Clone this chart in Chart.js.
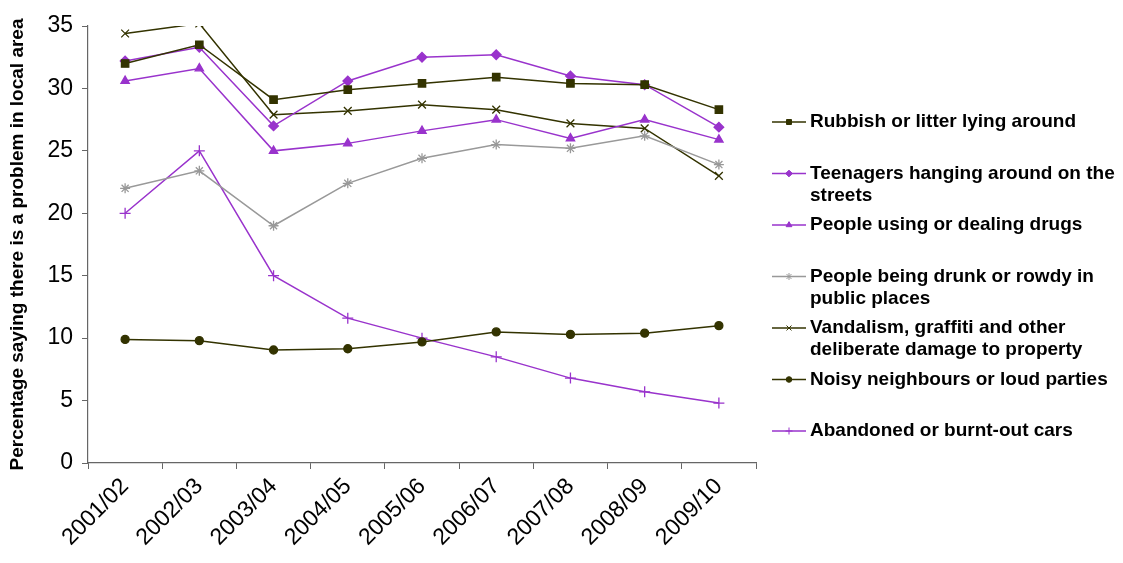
<!DOCTYPE html>
<html>
<head>
<meta charset="utf-8">
<script src="https://cdn.jsdelivr.net/npm/chart.js@4/dist/chart.umd.min.js"></script>
<style>
  html, body { margin: 0; padding: 0; background: #ffffff; }
  #wrap { width: 1123px; height: 563px; position: relative; }
</style>
</head>
<body>
<div id="wrap"><canvas id="c" width="1123" height="563"></canvas></div>
<script>
// ---- Data ----
const years = ['2001/02','2002/03','2003/04','2004/05','2005/06','2006/07','2007/08','2008/09','2009/10'];
const yTicks = [0, 5, 10, 15, 20, 25, 30, 35];
const yTitle = 'Percentage saying there is a problem in local area';

const rubbish   = [32.0, 33.5, 29.1, 29.9, 30.4, 30.9, 30.4, 30.3, 28.3];
const teenagers = [32.2, 33.3, 27.0, 30.6, 32.5, 32.7, 31.0, 30.3, 26.9];
const drugs     = [30.6, 31.6, 25.0, 25.6, 26.6, 27.5, 26.0, 27.5, 25.9];
const drunk     = [22.0, 23.4, 19.0, 22.4, 24.4, 25.5, 25.2, 26.2, 23.9];
const vandalism = [34.4, 35.2, 27.9, 28.2, 28.7, 28.3, 27.2, 26.8, 23.0];
const noisy     = [9.9, 9.8, 9.05, 9.15, 9.7, 10.5, 10.3, 10.4, 11.0];
const abandoned = [20.0, 25.0, 15.0, 11.6, 10.0, 8.5, 6.8, 5.7, 4.8];

const seriesLabels = [
  ['Rubbish or litter lying around'],
  ['Teenagers hanging around on the', 'streets'],
  ['People using or dealing drugs'],
  ['People being drunk or rowdy in', 'public places'],
  ['Vandalism, graffiti and other', 'deliberate damage to property'],
  ['Noisy neighbours or loud parties'],
  ['Abandoned or burnt-out cars']
];

// ---- Styles ----
const OLIVE = '#333300';
const PURPLE = '#9933cc';
const GREY = '#999999';
const FONT = '"Liberation Sans", Arial, sans-serif';

function ds(idx, data, color, style, radius, fill) {
  return {
    label: seriesLabels[idx].join(' '),
    legendLines: seriesLabels[idx],
    data: data,
    borderColor: color,
    backgroundColor: fill || color,
    borderWidth: 1.5,
    pointStyle: style,
    pointRadius: radius,
    pointHoverRadius: radius,
    pointBorderColor: color,
    pointBackgroundColor: fill || color,
    pointBorderWidth: 1.3,
    tension: 0,
    fill: false
  };
}

const datasets = [
  ds(0, rubbish, OLIVE, 'rect', 5.2),
  ds(1, teenagers, PURPLE, 'rectRot', 4.8),
  ds(2, drugs, PURPLE, 'triangle', 4.8),
  ds(3, drunk, GREY, 'star', 5),
  ds(4, vandalism, OLIVE, 'crossRot', 5.5),
  ds(5, noisy, OLIVE, 'circle', 4),
  ds(6, abandoned, PURPLE, 'cross', 5.5)
];

const legendPlugin = {
  id: 'customLegend',
  afterDraw(chart) {
    const ctx = chart.ctx;
    ctx.save();
    ctx.font = 'bold 19px ' + FONT;
    ctx.textBaseline = 'middle';
    ctx.textAlign = 'left';
    chart.data.datasets.forEach((d, i) => {
      const y0 = 122 + i * 51.5;
      ctx.strokeStyle = d.borderColor;
      ctx.lineWidth = 1.5;
      ctx.beginPath();
      ctx.moveTo(772, y0);
      ctx.lineTo(806, y0);
      ctx.stroke();
      ctx.fillStyle = d.pointBackgroundColor;
      ctx.strokeStyle = d.pointBorderColor;
      ctx.lineWidth = 1;
      Chart.helpers.drawPoint(ctx, {
        pointStyle: d.pointStyle,
        radius: Math.min(3.5, d.pointRadius * 0.7),
        rotation: 0,
        borderWidth: 1
      }, 789, y0);
      ctx.fillStyle = '#000000';
      d.legendLines.forEach((line, j) => {
        ctx.fillText(line, 810, y0 + j * 22);
      });
    });
    ctx.restore();
  }
};

new Chart(document.getElementById('c'), {
  type: 'line',
  data: { labels: years, datasets: datasets },
  plugins: [legendPlugin],
  options: {
    responsive: false,
    animation: false,
    events: [],
    layout: { padding: { top: 26, right: 367, bottom: 0, left: 0 } },
    plugins: {
      legend: { display: false },
      tooltip: { enabled: false },
      title: { display: false }
    },
    scales: {
      x: {
        type: 'category',
        offset: true,
        grid: {
          display: true,
          offset: true,
          drawOnChartArea: false,
          drawTicks: true,
          tickLength: 6,
          color: '#666666',
          lineWidth: 1
        },
        border: { display: true, color: '#666666', width: 1.2 },
        ticks: {
          autoSkip: false,
          minRotation: 45,
          maxRotation: 45,
          padding: 4,
          color: '#000000',
          font: { family: FONT, size: 23 }
        },
        afterFit(scale) { scale.height = 100; }
      },
      y: {
        type: 'linear',
        min: 0,
        max: 35,
        afterBuildTicks(scale) { scale.ticks = yTicks.map(v => ({ value: v })); },
        grid: {
          display: true,
          drawOnChartArea: false,
          drawTicks: true,
          tickLength: 6,
          color: '#666666',
          lineWidth: 1
        },
        border: { display: true, color: '#666666', width: 1.2 },
        ticks: {
          padding: 9,
          color: '#000000',
          font: { family: FONT, size: 23 }
        },
        title: {
          display: true,
          text: yTitle,
          color: '#000000',
          font: { family: FONT, size: 19, weight: 'bold' },
          padding: { top: 6, bottom: 0 }
        },
        afterFit(scale) { scale.width = 88; }
      }
    }
  }
});
</script>
</body>
</html>
